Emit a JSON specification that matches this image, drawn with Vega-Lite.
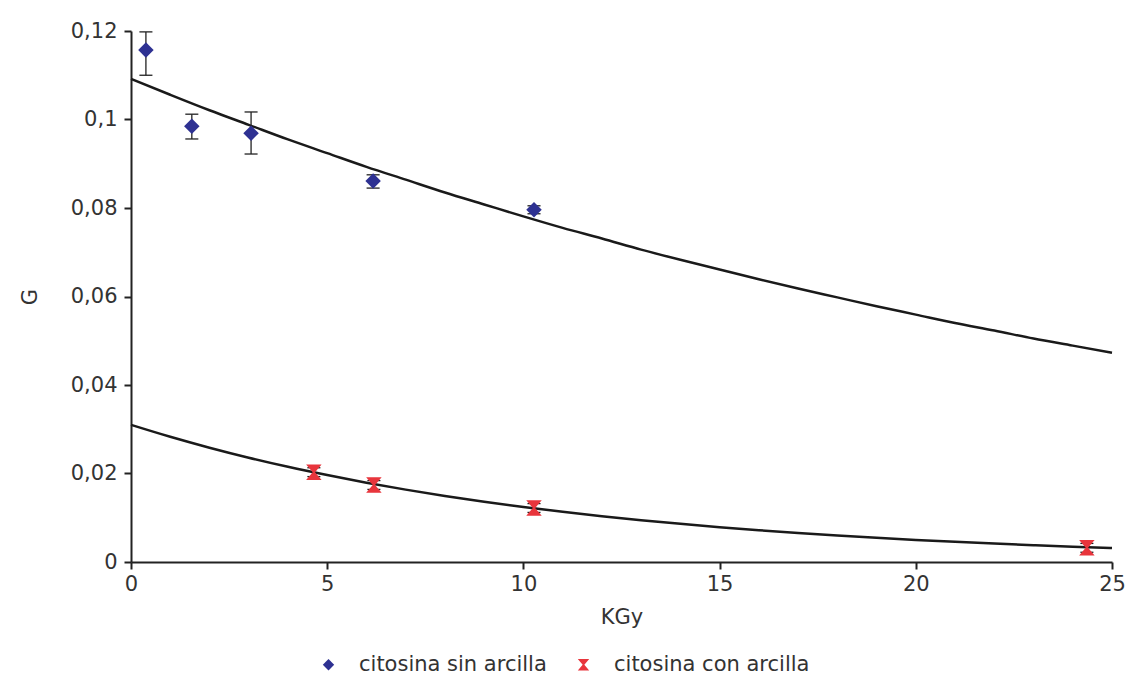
{
  "$schema": "https://vega.github.io/schema/vega-lite/v6.json",
  "width": 981,
  "height": 531,
  "autosize": "none",
  "padding": {"left": 131, "top": 31, "right": 29, "bottom": 124},
  "background": "white",
  "config": {
    "view": {"stroke": null},
    "font": "DejaVu Sans",
    "axis": {
      "domainColor": "#222",
      "domainWidth": 2,
      "tickColor": "#222",
      "tickWidth": 2,
      "tickSize": 7,
      "grid": false,
      "labelFlush": false,
      "labelOverlap": false,
      "labelFont": "DejaVu Sans",
      "labelFontSize": 21,
      "labelColor": "#333",
      "titleFont": "DejaVu Sans",
      "titleFontSize": 21,
      "titleFontWeight": "normal",
      "titleColor": "#333"
    }
  },
  "datasets": {
    "pts": [
      {"kgy": 0.38, "g": 0.1157, "lo": 0.1100, "hi": 0.1198, "serie": "citosina sin arcilla"},
      {"kgy": 1.55, "g": 0.0985, "lo": 0.0956, "hi": 0.1012, "serie": "citosina sin arcilla"},
      {"kgy": 3.06, "g": 0.0969, "lo": 0.0922, "hi": 0.1017, "serie": "citosina sin arcilla"},
      {"kgy": 6.17, "g": 0.0861, "lo": 0.0845, "hi": 0.0875, "serie": "citosina sin arcilla"},
      {"kgy": 10.27, "g": 0.0796, "lo": 0.0787, "hi": 0.0805, "serie": "citosina sin arcilla"},
      {"kgy": 4.66, "g": 0.0203, "lo": 0.0193, "hi": 0.0213, "serie": "citosina con arcilla"},
      {"kgy": 6.19, "g": 0.0174, "lo": 0.0164, "hi": 0.0184, "serie": "citosina con arcilla"},
      {"kgy": 10.27, "g": 0.0122, "lo": 0.0112, "hi": 0.0132, "serie": "citosina con arcilla"},
      {"kgy": 24.36, "g": 0.0032, "lo": 0.0022, "hi": 0.0042, "serie": "citosina con arcilla"}
    ],
    "fit": [
      {"kgy": 0, "g": 0.1092, "curva": "a"},
      {"kgy": 1, "g": 0.1056, "curva": "a"},
      {"kgy": 2, "g": 0.1021, "curva": "a"},
      {"kgy": 3, "g": 0.0988, "curva": "a"},
      {"kgy": 4, "g": 0.0955, "curva": "a"},
      {"kgy": 5, "g": 0.0924, "curva": "a"},
      {"kgy": 6, "g": 0.0893, "curva": "a"},
      {"kgy": 7, "g": 0.0864, "curva": "a"},
      {"kgy": 8, "g": 0.0835, "curva": "a"},
      {"kgy": 9, "g": 0.0808, "curva": "a"},
      {"kgy": 10, "g": 0.0781, "curva": "a"},
      {"kgy": 11, "g": 0.0755, "curva": "a"},
      {"kgy": 12, "g": 0.0731, "curva": "a"},
      {"kgy": 13, "g": 0.0706, "curva": "a"},
      {"kgy": 14, "g": 0.0683, "curva": "a"},
      {"kgy": 15, "g": 0.0661, "curva": "a"},
      {"kgy": 16, "g": 0.0639, "curva": "a"},
      {"kgy": 17, "g": 0.0618, "curva": "a"},
      {"kgy": 18, "g": 0.0598, "curva": "a"},
      {"kgy": 19, "g": 0.0578, "curva": "a"},
      {"kgy": 20, "g": 0.0559, "curva": "a"},
      {"kgy": 21, "g": 0.0540, "curva": "a"},
      {"kgy": 22, "g": 0.0523, "curva": "a"},
      {"kgy": 23, "g": 0.0505, "curva": "a"},
      {"kgy": 24, "g": 0.0489, "curva": "a"},
      {"kgy": 25, "g": 0.0473, "curva": "a"},
      {"kgy": 0, "g": 0.0310, "curva": "b"},
      {"kgy": 1, "g": 0.0283, "curva": "b"},
      {"kgy": 2, "g": 0.02583, "curva": "b"},
      {"kgy": 3, "g": 0.02357, "curva": "b"},
      {"kgy": 4, "g": 0.02151, "curva": "b"},
      {"kgy": 5, "g": 0.01964, "curva": "b"},
      {"kgy": 6, "g": 0.01792, "curva": "b"},
      {"kgy": 7, "g": 0.01636, "curva": "b"},
      {"kgy": 8, "g": 0.01493, "curva": "b"},
      {"kgy": 9, "g": 0.01363, "curva": "b"},
      {"kgy": 10, "g": 0.01244, "curva": "b"},
      {"kgy": 11, "g": 0.01135, "curva": "b"},
      {"kgy": 12, "g": 0.01036, "curva": "b"},
      {"kgy": 13, "g": 0.00946, "curva": "b"},
      {"kgy": 14, "g": 0.00863, "curva": "b"},
      {"kgy": 15, "g": 0.00788, "curva": "b"},
      {"kgy": 16, "g": 0.00719, "curva": "b"},
      {"kgy": 17, "g": 0.00657, "curva": "b"},
      {"kgy": 18, "g": 0.00599, "curva": "b"},
      {"kgy": 19, "g": 0.00547, "curva": "b"},
      {"kgy": 20, "g": 0.00499, "curva": "b"},
      {"kgy": 21, "g": 0.00456, "curva": "b"},
      {"kgy": 22, "g": 0.00416, "curva": "b"},
      {"kgy": 23, "g": 0.0038, "curva": "b"},
      {"kgy": 24, "g": 0.00346, "curva": "b"},
      {"kgy": 25, "g": 0.00316, "curva": "b"}
    ]
  },
  "encoding": {
    "x": {
      "field": "kgy", "type": "quantitative",
      "scale": {"domain": [0, 25], "nice": false, "zero": false},
      "axis": {"title": "KGy", "values": [0, 5, 10, 15, 20, 25], "labelPadding": 4, "titlePadding": 12}
    },
    "y": {
      "field": "g", "type": "quantitative",
      "scale": {"domain": [0, 0.12], "nice": false},
      "axis": {
        "title": "G",
        "values": [0, 0.02, 0.04, 0.06, 0.08, 0.1, 0.12],
        "labelExpr": "replace(format(datum.value, '~g'), '.', ',')",
        "labelPadding": 7,
        "titlePadding": 30
      }
    }
  },
  "layer": [
    {
      "data": {"name": "fit"},
      "mark": {"type": "line", "color": "#1a1a1a", "strokeWidth": 2.5, "interpolate": "monotone"},
      "encoding": {"detail": {"field": "curva"}}
    },
    {
      "data": {"name": "pts"},
      "mark": {"type": "rule", "color": "#222", "strokeWidth": 1.3},
      "encoding": {"y": {"field": "lo", "type": "quantitative"}, "y2": {"field": "hi"}}
    },
    {
      "data": {"name": "pts"},
      "mark": {"type": "point", "shape": "M-1,0H1", "filled": false, "color": "#222", "strokeWidth": 1.3, "size": 170, "opacity": 1},
      "encoding": {"y": {"field": "lo", "type": "quantitative"}}
    },
    {
      "data": {"name": "pts"},
      "mark": {"type": "point", "shape": "M-1,0H1", "filled": false, "color": "#222", "strokeWidth": 1.3, "size": 170, "opacity": 1},
      "encoding": {"y": {"field": "hi", "type": "quantitative"}}
    },
    {
      "data": {"name": "pts"},
      "mark": {"type": "point", "filled": true, "opacity": 1, "size": 240},
      "encoding": {
        "color": {
          "field": "serie", "type": "nominal",
          "scale": {"domain": ["citosina sin arcilla", "citosina con arcilla"], "range": ["#2E3192", "#E8353C"]},
          "legend": {
            "title": null,
            "orient": "none",
            "direction": "horizontal",
            "legendX": 187,
            "legendY": 623,
            "labelFontSize": 21,
            "labelFont": "DejaVu Sans",
            "labelColor": "#333",
            "labelLimit": 0,
            "symbolSize": 130,
            "columnPadding": 26,
            "labelOffset": 20
          }
        },
        "shape": {
          "field": "serie", "type": "nominal",
          "scale": {"domain": ["citosina sin arcilla", "citosina con arcilla"], "range": ["diamond", "M-1,-1L1,-1L0.15,0L1,1L-1,1L-0.15,0Z"]},
          "legend": null
        }
      }
    }
  ]
}
